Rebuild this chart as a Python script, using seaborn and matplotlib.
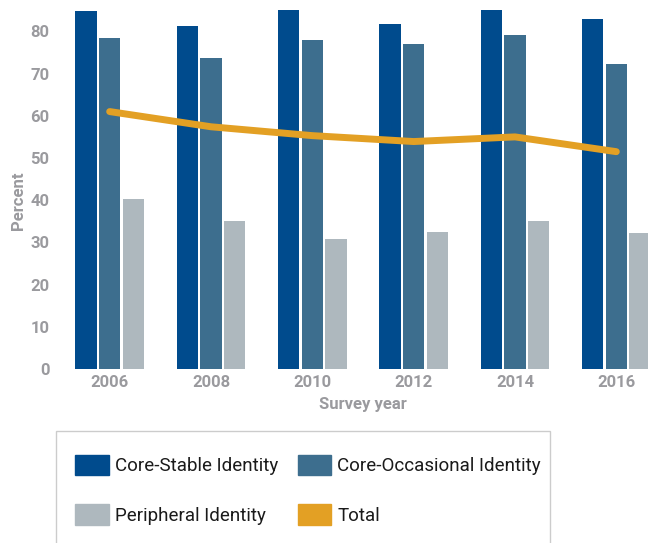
import numpy as np
import pandas as pd
import matplotlib
matplotlib.use('Agg')
import matplotlib.pyplot as plt
import seaborn as sns
from matplotlib.patches import Patch, Rectangle

# values (percent)
years = ['2006', '2008', '2010', '2012', '2014', '2016']
core_stable = [84.8, 81.3, 85.1, 81.8, 85.1, 82.9]
core_occasional = [78.4, 73.7, 78.0, 77.0, 79.1, 72.3]
peripheral = [40.3, 35.1, 30.8, 32.5, 35.1, 32.2]
total = [61.0, 57.4, 55.3, 53.9, 55.0, 51.5]

groups = ['Core-Stable Identity', 'Core-Occasional Identity', 'Peripheral Identity']
bar_colors = ['#004b8d', '#3d6e8e', '#aeb8be']
line_color = '#e3a024'
grey = '#9a9a9e'

df = pd.DataFrame({
    'year': years * 3,
    'group': np.repeat(groups, len(years)),
    'pct': core_stable + core_occasional + peripheral,
})

sns.set_theme(style='white')
plt.rcParams['font.family'] = ['Liberation Sans Narrow', 'Roboto', 'DejaVu Sans']
plt.rcParams['font.stretch'] = 'condensed'

fig = plt.figure(figsize=(6.48, 5.43), dpi=100)
ax = fig.add_axes([59 / 648, 174 / 543, 608 / 648, 337.6 / 543])

sns.barplot(data=df, x='year', y='pct', hue='group', palette=bar_colors,
            width=0.7, gap=0.1, linewidth=0, saturation=1, legend=False, ax=ax)
for p in ax.patches:
    p.set_clip_on(False)

sns.lineplot(x=np.arange(len(years)), y=total, color=line_color, linewidth=5,
             solid_capstyle='round', solid_joinstyle='round', ax=ax)
for ln in ax.lines:
    ln.set_clip_on(False)

ax.set_xlim(-0.5, 5.5)
ax.set_ylim(0, 80)
ax.set_yticks(range(0, 81, 10))
sns.despine(ax=ax, left=True, bottom=True)
ax.tick_params(length=0, labelsize=12, labelcolor=grey)
ax.tick_params(axis='x', pad=4)
ax.tick_params(axis='y', pad=7)
for lbl in ax.get_xticklabels() + ax.get_yticklabels():
    lbl.set_fontweight('bold')

ax.set_xlabel('Survey year', fontsize=12, fontweight='bold', color=grey, labelpad=5)
ax.set_ylabel('Percent', fontsize=12, fontweight='bold', color=grey, labelpad=3)

# legend (column-major order so rows read across)
handles = [Patch(color=bar_colors[0]), Patch(color=bar_colors[2]),
           Patch(color=bar_colors[1]), Patch(color=line_color)]
labels = [groups[0], groups[2], groups[1], 'Total']
fig.legend(handles, labels, ncol=2, loc='upper left',
           bbox_to_anchor=(75 / 648, 1 - 455 / 543), frameon=False,
           fontsize=13.5, handlelength=1.8, handleheight=1.28, handletextpad=0.32,
           columnspacing=1.05, labelspacing=1.55, borderpad=0, borderaxespad=0,
           labelcolor='#1a1a1a')

fig.add_artist(Rectangle((56 / 648, -0.1), (550 - 56) / 648, (1 - 431 / 543) + 0.1,
                         transform=fig.transFigure, fill=False,
                         edgecolor='#cccccc', linewidth=1))

fig.savefig('out.png', dpi=100)
